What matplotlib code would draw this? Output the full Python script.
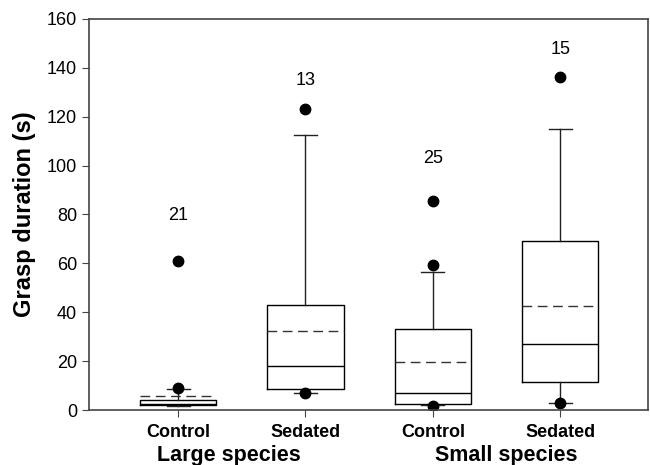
import matplotlib
matplotlib.use("Agg")
import matplotlib.pyplot as plt
from matplotlib.transforms import blended_transform_factory

plt.rcParams['font.family'] = ['Liberation Sans', 'DejaVu Sans']

conditions = ["Control", "Sedated", "Control", "Sedated"]
groups = ["Large species", "Small species"]
q1 = [1.9, 8.7, 2.5, 11.6]
medians = [2.5, 18.2, 6.8, 27.2]
q3 = [4.1, 43.0, 33.3, 69.3]
means = [5.9, 32.4, 19.7, 42.5]
whislo = [1.8, 7.0, 2.0, 3.0]
whishi = [8.5, 112.5, 56.5, 114.8]
fliers = [[9.0, 61.0], [7.0, 123.0], [1.5, 59.3, 85.6], [2.8, 136.2]]
sample_sizes = [21, 13, 25, 15]
label_heights = [79.5, 135.0, 103.0, 147.5]

positions = [1, 2, 3, 4]
stats = []
for i in range(4):
    stats.append(dict(med=medians[i], q1=q1[i], q3=q3[i], mean=means[i],
                      whislo=whislo[i], whishi=whishi[i], fliers=fliers[i]))

fig = plt.figure(figsize=(6.5, 4.65), dpi=100)
ax = fig.add_axes([89/650, 1-410/465, (648-89)/650, (410-19)/465])

ax.bxp(stats, positions=positions, widths=0.6, showmeans=True, meanline=True,
       showfliers=True,
       boxprops=dict(color='black', linewidth=1.0),
       medianprops=dict(color='black', linewidth=1.0),
       meanprops=dict(color='#333333', linestyle=(0, (7, 4)), linewidth=1.0),
       whiskerprops=dict(color='#222222', linewidth=1.0),
       capprops=dict(color='#222222', linewidth=1.0),
       capwidths=0.18,
       flierprops=dict(marker='o', markerfacecolor='black', markeredgecolor='black',
                       markersize=7.5, linestyle='none'))

for p, n, h in zip(positions, sample_sizes, label_heights):
    ax.text(p, h, str(n), ha='center', va='center', fontsize=13)

ax.set_xlim(0.3, 4.69)
ax.set_ylim(0, 160)
ax.set_yticks(range(0, 161, 20))
ax.set_xticks(positions)
ax.set_xticklabels(conditions, fontsize=13, fontweight='bold')
ax.tick_params(axis='y', labelsize=13, direction='out', length=5, color='#444444')
ax.tick_params(axis='x', direction='out', length=5, pad=5, color='#444444')
for s in ax.spines.values():
    s.set_color('#444444')
    s.set_linewidth(1.2)

trans = blended_transform_factory(ax.transData, fig.transFigure)
ax.text(1.4, 1-455/465, groups[0], transform=trans, ha='center', va='center',
        fontsize=15.5, fontweight='bold')
ax.text(3.58, 1-455/465, groups[1], transform=trans, ha='center', va='center',
        fontsize=15.5, fontweight='bold')

ax.set_ylabel("Grasp duration (s)", fontsize=17, fontweight='bold', labelpad=8)

fig.savefig("out.png", dpi=100)
